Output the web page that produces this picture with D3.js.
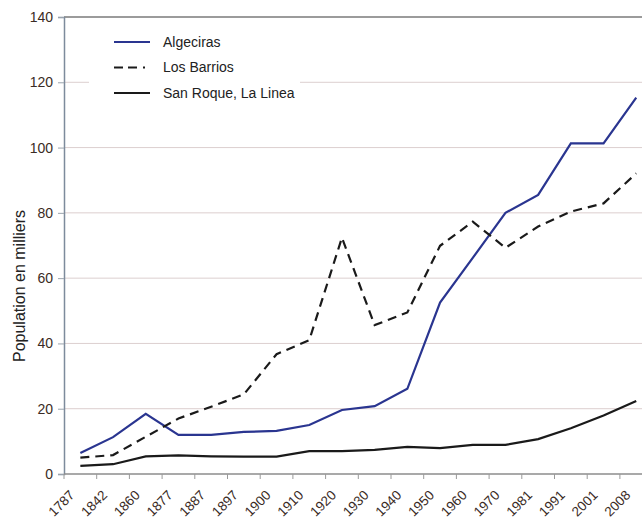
<!DOCTYPE html>
<html>
<head>
<meta charset="utf-8">
<script src="https://cdn.jsdelivr.net/npm/d3@7"></script>
<style>
  html, body { margin: 0; padding: 0; background: #fff; }
  svg { display: block; font-family: Arial, "Liberation Sans", sans-serif; }
</style>
</head>
<body>
<svg id="chart" width="642" height="518"></svg>
<script>
// Census years (categories)
const years = ["1787", "1842", "1860", "1877", "1887", "1897", "1900", "1910", "1920",
               "1930", "1940", "1950", "1960", "1970", "1981", "1991", "2001", "2008"];

// Population, in thousands
const algeciras = [6.4, 11.3, 18.4, 12.0, 12.0, 12.9, 13.2, 15.0, 19.6,
                   20.8, 26.1, 52.5, 66.2, 80.0, 85.5, 101.3, 101.3, 115.3];
const losBarrios = [5.0, 5.8, 11.4, 17.0, 20.6, 24.4, 36.7, 41.0, 72.4,
                    45.6, 49.5, 69.9, 77.3, 69.3, 75.8, 80.4, 82.9, 92.1];
const sanRoque = [2.5, 3.0, 5.4, 5.7, 5.4, 5.3, 5.3, 7.0, 7.0,
                  7.4, 8.3, 7.9, 8.9, 8.9, 10.7, 14.0, 17.9, 22.4];

const yTicks = [0, 20, 40, 60, 80, 100, 120, 140];
const seriesNames = ["Algeciras", "Los Barrios", "San Roque, La Linea"];

const series = [
  { name: seriesNames[0], values: algeciras, color: "#2a3590", dash: null, legendDash: null },
  { name: seriesNames[1], values: losBarrios, color: "#1a1a1a", dash: "9,6", legendDash: "9,5,9,6,2,5" },
  { name: seriesNames[2], values: sanRoque, color: "#1a1a1a", dash: null, legendDash: null }
];

const svg = d3.select("#chart");
const plotLeft = 64, plotTop = 17, plotBottom = 474;
const step = 32.7;

const x = d3.scaleBand().domain(years).range([plotLeft, plotLeft + step * years.length]).padding(0);
const y = d3.scaleLinear().domain([0, 140]).range([plotBottom, plotTop]);

const labelColor = "#3a2b25";

// Horizontal grid lines
svg.append("g").selectAll("line")
  .data(yTicks.filter(d => d > 0))
  .join("line")
  .attr("x1", plotLeft).attr("x2", 642)
  .attr("y1", d => y(d)).attr("y2", d => y(d))
  .attr("stroke", d => d === 140 ? "#7a7a7a" : "#dccfcf")
  .attr("stroke-width", d => d === 140 ? 1.6 : 1);

// Y axis
const yAxis = svg.append("g")
  .attr("transform", `translate(${plotLeft},0)`)
  .call(d3.axisLeft(y).tickValues(yTicks).tickSize(6).tickPadding(5));
yAxis.select(".domain").attr("stroke", "#7d8b9c").attr("stroke-width", 1.5);
yAxis.selectAll(".tick line").attr("stroke", "#9aa3ad");
yAxis.selectAll(".tick text")
  .attr("fill", labelColor)
  .style("font-size", "14px")
  .style("font-family", "Arial, 'Liberation Sans', sans-serif");

// X axis: ticks on category boundaries
const xAxisG = svg.append("g").attr("transform", `translate(0,${plotBottom})`);
xAxisG.append("line")
  .attr("x1", plotLeft).attr("x2", 642)
  .attr("y1", 0).attr("y2", 0)
  .attr("stroke", "#8c8c8c").attr("stroke-width", 1.5);
xAxisG.selectAll("line.tick")
  .data(years)
  .join("line")
  .attr("class", "tick")
  .attr("x1", d => x(d)).attr("x2", d => x(d))
  .attr("y1", 0).attr("y2", 5)
  .attr("stroke", "#9a9a9a");
xAxisG.selectAll("text")
  .data(years)
  .join("text")
  .attr("transform", d => `translate(${x(d) + x.bandwidth() / 2 - 5},${22}) rotate(-45)`)
  .attr("text-anchor", "end")
  .attr("fill", labelColor)
  .style("font-size", "13.5px")
  .text(d => d);

// Y axis title
svg.append("text")
  .attr("transform", `translate(25,286) rotate(-90)`)
  .attr("text-anchor", "middle")
  .attr("fill", "#222")
  .style("font-size", "16px")
  .text("Population en milliers");

// Lines
const line = d3.line()
  .x((d, i) => x(years[i]) + x.bandwidth() / 2)
  .y(d => y(d));

svg.append("g").selectAll("path")
  .data(series)
  .join("path")
  .attr("d", d => line(d.values))
  .attr("fill", "none")
  .attr("stroke", d => d.color)
  .attr("stroke-width", 2.2)
  .attr("stroke-dasharray", d => d.dash)
  .attr("stroke-linejoin", "miter");

// Legend
const legend = svg.append("g");
legend.append("rect")
  .attr("x", 89).attr("y", 22).attr("width", 211).attr("height", 84)
  .attr("fill", "#fff");
const legendRows = legend.selectAll("g")
  .data(series)
  .join("g")
  .attr("transform", (d, i) => `translate(0,${42 + i * 25.5})`);
legendRows.append("line")
  .attr("x1", 114).attr("x2", 150)
  .attr("y1", 0).attr("y2", 0)
  .attr("stroke", d => d.color)
  .attr("stroke-width", 2.2)
  .attr("stroke-dasharray", d => d.legendDash);
legendRows.append("text")
  .attr("x", 163).attr("y", 0)
  .attr("dy", "0.35em")
  .attr("fill", "#222")
  .style("font-size", "14px")
  .text(d => d.name);
</script>
</body>
</html>
